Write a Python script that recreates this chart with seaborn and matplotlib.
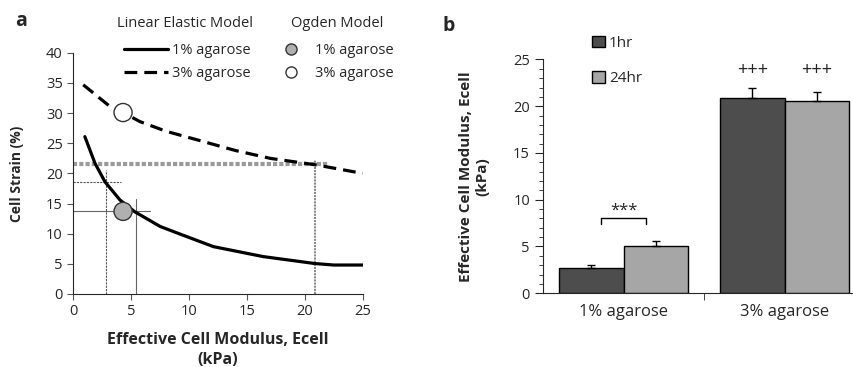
import numpy as np
import pandas as pd
import matplotlib
matplotlib.use("Agg")
import matplotlib.pyplot as plt
from matplotlib.lines import Line2D
from matplotlib.patches import Patch
import seaborn as sns

# panel a: model curves
ecell_1 = [1, 1.87, 2.74, 4.03, 5.3, 7.5, 9.2, 12.1, 16.4, 20.85, 22.5, 25]
strain_1 = [26.1, 21.7, 18.6, 15.6, 13.65, 11.2, 9.95, 7.85, 6.2, 5.05, 4.8, 4.8]
ecell_3 = [0.86, 3.17, 4.3, 5.75, 8, 11.2, 14, 17, 21, 25]
strain_3 = [34.7, 31.1, 30.1, 28.6, 27.0, 25.3, 23.8, 22.5, 21.4, 20.0]
ogden_x = [4.3, 4.3]
ogden_y = [13.7, 30.1]
ogden_gel = ["1%", "3%"]

# panel b: bars
gels = ["1% agarose", "1% agarose", "3% agarose", "3% agarose"]
times = ["1hr", "24hr", "1hr", "24hr"]
modulus = [2.7, 5.1, 20.9, 20.6]
modulus_err = [0.28, 0.5, 1.0, 0.9]

dark = "#4d4d4d"
light = "#a6a6a6"

sns.set_style("ticks")
plt.rcParams['font.family'] = ['Open Sans', 'DejaVu Sans']
plt.rcParams['font.size'] = 10

fig = plt.figure(figsize=(8.54, 3.67), dpi=100)
ax1 = fig.add_axes([0.0858, 0.199, 0.339, 0.657])
ax2 = fig.add_axes([0.636, 0.201, 0.377, 0.637])

# ---- panel a
curves = pd.DataFrame({"x": ecell_1 + ecell_3,
                       "y": strain_1 + strain_3,
                       "gel": ["1%"] * len(ecell_1) + ["3%"] * len(ecell_3)})
sns.lineplot(data=curves[curves.gel == "1%"], x="x", y="y", color="black",
             lw=2.3, ax=ax1, legend=False)
sns.lineplot(data=curves[curves.gel == "3%"], x="x", y="y", color="black",
             lw=2.3, ax=ax1, legend=False)
ax1.lines[-1].set_linestyle((0, (4, 2.2)))

# guide lines
ax1.plot([0, 22], [21.6, 21.6], color="#9a9a9a", lw=3, ls=(0, (1, 0.5)), zorder=1)
ax1.plot([20.9, 20.9], [0, 22.3], color="#8a8a8a", lw=1.5, ls=(0, (1, 0.5)), zorder=1)
ax1.plot([0, 4.1], [18.6, 18.6], color="#555555", lw=0.8, ls=(0, (2, 1)), zorder=1)
ax1.plot([2.8, 2.8], [0, 20.6], color="#555555", lw=0.8, ls=(0, (2, 1)), zorder=1)
ax1.plot([0, 6.6], [13.7, 13.7], color="#666666", lw=0.8, zorder=1)
ax1.plot([5.4, 5.4], [0, 15.7], color="#666666", lw=0.8, zorder=1)

pts = pd.DataFrame({"x": ogden_x, "y": ogden_y, "gel": ogden_gel})
sns.scatterplot(data=pts, x="x", y="y", hue="gel", palette=["#b0b0b0", "white"],
                edgecolor="#333333", linewidth=1, s=170, ax=ax1, legend=False, zorder=5)

ax1.set_xlim(0, 25)
ax1.set_ylim(0, 40)
ax1.set_xticks(range(0, 26, 5))
ax1.set_yticks(range(0, 41, 5))
ax1.tick_params(labelsize=10.5, length=4, color="#555555")
sns.despine(ax=ax1)
ax1.set_xlabel("Effective Cell Modulus, Ecell\n(kPa)", fontweight="bold", fontsize=11.5,
               labelpad=9, linespacing=1.35)
ax1.set_ylabel("Cell Strain (%)", fontweight="bold", fontsize=10, labelpad=16)

fig.text(0.2166, 0.935, "Linear Elastic Model", ha="center", va="center", fontsize=10.5)
fig.text(0.3946, 0.935, "Ogden Model", ha="center", va="center", fontsize=10.5)

h1 = [Line2D([], [], color="black", lw=2.3),
      Line2D([], [], color="black", lw=2.3, ls=(0, (4, 2.2)))]
leg1 = ax1.legend(h1, ["1% agarose", "3% agarose"],
                  loc="upper left", bbox_to_anchor=(0.13, 1.095), frameon=False,
                  fontsize=10.5, handlelength=3.0,
                  handletextpad=0.3, labelspacing=0.55)
ax1.add_artist(leg1)
h2 = [Line2D([], [], marker="o", ls="", markerfacecolor="#b0b0b0",
             markeredgecolor="#333333", markersize=8),
      Line2D([], [], marker="o", ls="", markerfacecolor="white",
             markeredgecolor="#333333", markersize=8)]
ax1.legend(h2, ["1% agarose", "3% agarose"],
           loc="upper left", bbox_to_anchor=(0.675, 1.095), frameon=False,
           fontsize=10.5, handlelength=1.2,
           handletextpad=1.1, labelspacing=0.55)

fig.text(0.018, 0.93, "a", fontsize=14, fontweight="bold")

# ---- panel b
bars = pd.DataFrame({"gel": gels, "time": times, "modulus": modulus})
sns.barplot(data=bars, x="gel", y="modulus", hue="time", palette=[dark, light],
            edgecolor="black", linewidth=1, width=0.8, ax=ax2, legend=False)

rects = sorted([p for p in ax2.patches if p.get_height() > 0], key=lambda p: p.get_x())
centers = []
for p, v, e in zip(rects, modulus, modulus_err):
    cx = p.get_x() + p.get_width() / 2
    centers.append(cx)
    ax2.errorbar(cx, v, yerr=[[0], [e]], fmt="none", ecolor="black",
                 elinewidth=1, capsize=3, capthick=1)

ax2.text(centers[2], 23.9, "+++", ha="center", va="center", fontsize=13)
ax2.text(centers[3], 23.9, "+++", ha="center", va="center", fontsize=13)
bx0, bx1 = centers[0] + 0.06, centers[1] - 0.06
ax2.plot([bx0, bx0, bx1, bx1], [7.4, 8.05, 8.05, 7.4], color="black", lw=1)
ax2.text((bx0 + bx1) / 2, 8.8, "***", ha="center", va="center", fontsize=12)

ax2.set_xlim(-0.5, 1.5)
ax2.set_ylim(0, 25)
ax2.set_yticks(range(0, 26, 5))
ax2.set_yticks(range(0, 26, 1), minor=True)
ax2.set_xticks([0.5], minor=True)
ax2.tick_params(axis="x", which="major", length=0, labelsize=12, pad=8)
ax2.tick_params(axis="x", which="minor", length=5)
ax2.tick_params(axis="y", which="major", length=6, labelsize=10.5)
ax2.tick_params(axis="y", which="minor", length=3)
sns.despine(ax=ax2)
ax2.set_xlabel("")
ax2.set_ylabel("Effective Cell Modulus, Ecell\n(kPa)", fontweight="bold", fontsize=11,
               labelpad=17, linespacing=1.2)

h3 = [Patch(facecolor=dark, edgecolor="black"), Patch(facecolor=light, edgecolor="black")]
ax2.legend(h3, ["1hr", "24hr"], loc="upper left", bbox_to_anchor=(0.11, 1.16),
           frameon=False, fontsize=11, handlelength=0.8, handleheight=0.8,
           handletextpad=0.3, labelspacing=1.3)

fig.text(0.518, 0.915, "b", fontsize=14, fontweight="bold")

fig.savefig("out.png", dpi=100)
